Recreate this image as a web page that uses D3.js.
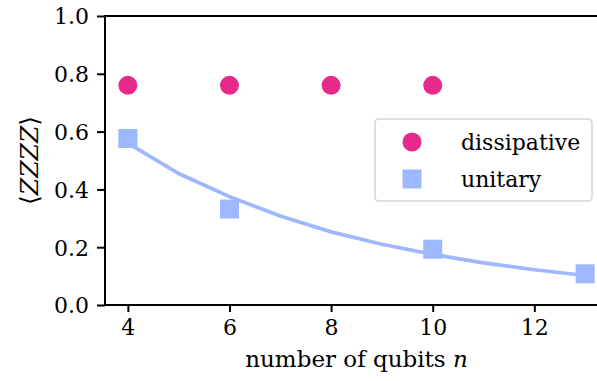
<!DOCTYPE html>
<html>
<head>
<meta charset="utf-8">
<script src="https://cdn.jsdelivr.net/npm/d3@7"></script>
<style>
  body { margin: 0; background: #fff; }
  svg text { font-family: "DejaVu Serif", serif; }
</style>
</head>
<body>
<div id="chart"></div>
<script>
// data
var dissN = [4, 6, 8, 10];
var dissVal = [0.76, 0.76, 0.76, 0.76];
var uniN = [4, 6, 10, 13];
var uniVal = [0.576, 0.332, 0.193, 0.108];
// fitted curve, sampled at integer n
var fitN = [4, 5, 6, 7, 8, 9, 10, 11, 12, 13];
var fitVal = [0.56, 0.455, 0.375, 0.308, 0.253, 0.21, 0.175, 0.146, 0.122, 0.102];
var xTicks = [4, 6, 8, 10, 12];
var yTicks = [0.0, 0.2, 0.4, 0.6, 0.8, 1.0];

var svgWidth = 597;
var svgHeight = 381;
var margin = { top: 16, left: 105 };
var plotRight = 608;   // axes box runs past the picture edge
var plotBottom = 305;
var fs = "22px";

var pink = "#e7298a";
var blue = "#9db8ff";

var svg = d3.select("#chart")
  .append("svg")
  .attr("width", svgWidth)
  .attr("height", svgHeight);

var x = d3.scaleLinear().domain([3.55, 13.45]).range([margin.left, plotRight]);
var y = d3.scaleLinear().domain([0, 1]).range([plotBottom, margin.top]);

// axes
var bottomAxis = d3.axisBottom(x).tickValues(xTicks).tickFormat(d3.format("d")).tickSize(7).tickPadding(7);
var leftAxis = d3.axisLeft(y).tickValues(yTicks).tickFormat(d3.format(".1f")).tickSize(8).tickPadding(8);

var gx = svg.append("g")
  .attr("transform", `translate(0, ${plotBottom})`)
  .call(bottomAxis);
var gy = svg.append("g")
  .attr("transform", `translate(${margin.left}, 0)`)
  .call(leftAxis);

[gx, gy].forEach(function(g) {
  g.attr("font-family", null).attr("font-size", null);
  g.select(".domain").remove();
  g.selectAll(".tick line").attr("stroke", "#000").attr("stroke-width", 2);
  g.selectAll(".tick text")
    .attr("fill", "#000")
    .style("font-size", fs);
});
gy.selectAll(".tick text").attr("dy", "0.36em");

// spines
svg.append("path")
  .attr("d", `M${plotRight},${margin.top}H${margin.left}V${plotBottom}H${plotRight}`)
  .attr("fill", "none")
  .attr("stroke", "#000")
  .attr("stroke-width", 2);

// fit line
var fit = fitN.map(function(n, i) { return [n, fitVal[i]]; });
svg.append("path")
  .datum(fit)
  .attr("fill", "none")
  .attr("stroke", blue)
  .attr("stroke-width", 3.7)
  .attr("d", d3.line().x(d => x(d[0])).y(d => y(d[1])));

// unitary squares
var sq = 19;
svg.selectAll(".uni")
  .data(uniN)
  .enter()
  .append("rect")
  .attr("x", (d, i) => x(d) - sq / 2)
  .attr("y", (d, i) => y(uniVal[i]) - sq / 2)
  .attr("width", sq)
  .attr("height", sq)
  .attr("fill", blue);

// dissipative circles
svg.selectAll(".diss")
  .data(dissN)
  .enter()
  .append("circle")
  .attr("cx", d => x(d))
  .attr("cy", (d, i) => y(dissVal[i]))
  .attr("r", 9.5)
  .attr("fill", pink);

// axis labels
svg.append("text")
  .attr("x", (margin.left + plotRight) / 2)
  .attr("y", 367)
  .attr("text-anchor", "middle")
  .style("font-size", "23px")
  .html("number of qubits <tspan font-style='italic'>n</tspan>");

svg.append("text")
  .attr("transform", `translate(38, ${(margin.top + plotBottom) / 2}) rotate(-90)`)
  .attr("text-anchor", "middle")
  .style("font-size", "25px")
  .html("⟨<tspan font-style='italic'>ZZZZ</tspan>⟩");

// legend
var legend = svg.append("g");
legend.append("rect")
  .attr("x", 375)
  .attr("y", 119)
  .attr("width", 217)
  .attr("height", 82)
  .attr("rx", 4)
  .attr("fill", "#fff")
  .attr("fill-opacity", 0.8)
  .attr("stroke", "#d6d6d6")
  .attr("stroke-width", 1.6);
legend.append("circle")
  .attr("cx", 412).attr("cy", 142).attr("r", 9.5).attr("fill", pink);
legend.append("rect")
  .attr("x", 412 - sq / 2).attr("y", 179 - sq / 2)
  .attr("width", sq).attr("height", sq).attr("fill", blue);
legend.append("text")
  .attr("x", 461).attr("y", 142).attr("dy", "0.36em")
  .style("font-size", fs).text("dissipative");
legend.append("text")
  .attr("x", 461).attr("y", 179).attr("dy", "0.36em")
  .style("font-size", fs).text("unitary");
</script>
</body>
</html>
